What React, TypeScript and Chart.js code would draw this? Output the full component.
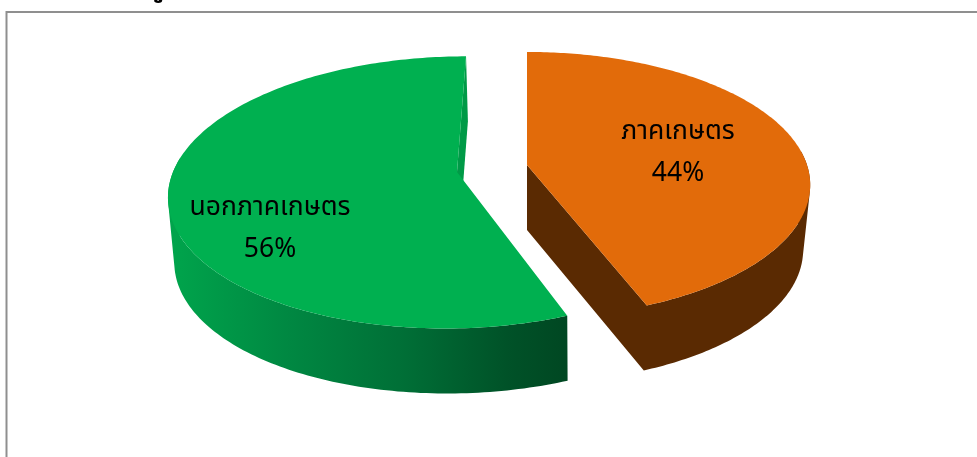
import React, { useEffect, useRef } from "react";
import { Chart, registerables } from "chart.js";

Chart.register(...registerables);

const categories = ["ภาคเกษตร", "นอกภาคเกษตร"];
const shares = [44, 56];
const topColors = ["#E26B0A", "#00B050"];

const THAI = '"Noto Sans Thai", Tahoma, "Noto Sans", "Open Sans", sans-serif';

// Perspective projection of the unit pie, one per slice (style only, not data).
const views = [
  { x0: 527, y0: 165, K: 280, s: 0, k: 130, p: 0.15, depth: 65, squeeze: 0.975, shift: 0, labelX: 678, labelY: 134, labelGap: 42 },
  { x0: 457, y0: 172, K: 284, s: -10.4, k: 133, p: 0.15, depth: 65, squeeze: 0.985, shift: 2, labelX: 270, labelY: 210, labelGap: 42 },
];

type View = (typeof views)[number];
type Pt = { x: number; y: number };

function project(v: View, theta: number, r: number, bottom: boolean): Pt {
  const uu = Math.sin(theta) * r;
  const vv = -Math.cos(theta) * r;
  const w = 1 / (1 - v.p * vv);
  const sq = bottom ? v.squeeze : 1;
  return {
    x: v.x0 + (bottom ? v.shift : 0) + (v.K * uu + v.s * vv) * w * sq,
    y: v.y0 + (bottom ? v.depth : 0) + v.k * vv * w,
  };
}

const STEPS = 200;

function arcAngles(a: number, b: number) {
  const out: number[] = [];
  for (let i = 0; i <= STEPS; i++) out.push(a + ((b - a) * i) / STEPS);
  return out;
}

function fillPoly(ctx: CanvasRenderingContext2D, pts: Pt[], fill: string | CanvasGradient) {
  ctx.beginPath();
  pts.forEach((p, i) => (i ? ctx.lineTo(p.x, p.y) : ctx.moveTo(p.x, p.y)));
  ctx.closePath();
  ctx.fillStyle = fill;
  ctx.fill();
}

// Adds a polygon to the current path with one fixed winding, so a nonzero
// fill of many overlapping polygons becomes their union, with no seams.
function addWound(ctx: CanvasRenderingContext2D, pts: Pt[]) {
  let area = 0;
  pts.forEach((p, i) => {
    const q = pts[(i + 1) % pts.length];
    area += p.x * q.y - q.x * p.y;
  });
  const list = area < 0 ? pts.slice().reverse() : pts;
  list.forEach((p, i) => (i ? ctx.lineTo(p.x, p.y) : ctx.moveTo(p.x, p.y)));
  ctx.closePath();
}

const pie3d = {
  id: "pie3d",
  beforeDraw(chart: any) {
    const ctx: CanvasRenderingContext2D = chart.ctx;
    ctx.save();
    ctx.fillStyle = "#ffffff";
    ctx.fillRect(0, 0, chart.width, chart.height);
    ctx.strokeStyle = "#8f8f8f";
    ctx.lineWidth = 2;
    ctx.strokeRect(6.5, 12, chart.width + 20, chart.height + 20);
    // the tail of a cropped title line above the frame
    ctx.fillStyle = "#000000";
    ctx.font = `bold 26px ${THAI}`;
    ctx.textAlign = "right";
    ctx.textBaseline = "alphabetic";
    ctx.fillText("ดู", 164, -4);
    ctx.restore();
  },
  beforeDatasetsDraw(chart: any) {
    const ctx: CanvasRenderingContext2D = chart.ctx;
    const arcs = chart.getDatasetMeta(0).data;
    ctx.save();
    arcs.forEach((arc: any, i: number) => {
      const v = views[i];
      const a = arc.startAngle + Math.PI / 2;
      const b = arc.endAngle + Math.PI / 2;
      const angles = arcAngles(a, b);
      const top = angles.map((t) => project(v, t, 1, false));
      const low = angles.map((t) => project(v, t, 1, true));
      const apexTop = project(v, 0, 0, false);
      const apexLow = project(v, 0, 0, true);

      let wall: string | CanvasGradient;
      if (i === 0) {
        wall = "#5A2A02";
      } else {
        const g = ctx.createLinearGradient(168, 0, 567, 0);
        g.addColorStop(0, "#00A54C");
        g.addColorStop(0.3, "#008842");
        g.addColorStop(0.6, "#006E36");
        g.addColorStop(0.85, "#005228");
        g.addColorStop(1, "#004722");
        wall = g;
      }

      ctx.beginPath();
      for (let q = 0; q < STEPS; q++) {
        // the far part of the wall lies behind the top face: skip it
        if (-Math.cos(angles[q]) < -0.1 && -Math.cos(angles[q + 1]) < -0.1) continue;
        addWound(ctx, [top[q], top[q + 1], low[q + 1], low[q]]);
      }
      if (i === 0) {
        addWound(ctx, [apexTop, apexLow, low[STEPS], top[STEPS]]);
      }
      ctx.fillStyle = wall;
      ctx.fill("nonzero");

      if (i === 1) {
        // cut face at the back, seen as a thin strip
        fillPoly(ctx, [apexTop, apexLow, low[STEPS], top[STEPS]], "#009A47");
      }
      fillPoly(ctx, [apexTop, ...top], topColors[i]);
    });

    ctx.fillStyle = "#000000";
    ctx.textAlign = "center";
    ctx.textBaseline = "middle";
    ctx.font = `26.5px ${THAI}`;
    arcs.forEach((_: any, i: number) => {
      const v = views[i];
      ctx.fillText(categories[i], v.labelX, v.labelY);
      ctx.fillText(`${shares[i]}%`, v.labelX, v.labelY + v.labelGap);
    });
    ctx.restore();
    return false;
  },
};

export default function App() {
  const ref = useRef<HTMLCanvasElement>(null);
  useEffect(() => {
    const chart = new Chart(ref.current!, {
      type: "pie",
      data: {
        labels: categories,
        datasets: [{ data: shares, backgroundColor: topColors, borderWidth: 0 }],
      },
      options: {
        animation: false,
        responsive: false,
        rotation: 0,
        plugins: { legend: { display: false }, tooltip: { enabled: false }, title: { display: false } },
      },
      plugins: [pie3d as any],
    });
    return () => chart.destroy();
  }, []);
  return (
    <div style={{ position: "absolute", left: 0, top: 0, width: 977, height: 457, overflow: "hidden" }}>
      <canvas ref={ref} width={977} height={457} style={{ display: "block" }} />
    </div>
  );
}
